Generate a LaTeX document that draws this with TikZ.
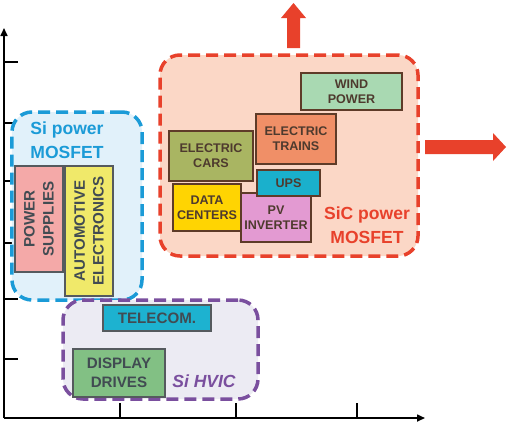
\documentclass[tikz,border=0pt]{standalone}
\usepackage{fontspec}
\setmainfont{Liberation Sans}
\usetikzlibrary{arrows.meta}
\definecolor{siblue}{HTML}{1B9BD7}
\definecolor{sibluefill}{HTML}{E1F1FA}
\definecolor{sicred}{HTML}{E8412B}
\definecolor{sicredfill}{HTML}{FBD7C6}
\definecolor{hvicpurple}{HTML}{7A4F9E}
\definecolor{hvicfill}{HTML}{ECEBF3}
\definecolor{brownline}{HTML}{5E3B28}
\definecolor{grayline}{HTML}{555A5E}
\definecolor{browntext}{HTML}{4E3A2E}
\definecolor{graytext}{HTML}{414B52}
\definecolor{suppliesfill}{HTML}{F4A9A8}
\definecolor{autofill}{HTML}{F0E96A}
\definecolor{telecomfill}{HTML}{1DB2D0}
\definecolor{displayfill}{HTML}{82C084}
\definecolor{windfill}{HTML}{A9D9B2}
\definecolor{trainsfill}{HTML}{F08F67}
\definecolor{carsfill}{HTML}{A9B562}
\definecolor{pvfill}{HTML}{E39AD2}
\definecolor{datafill}{HTML}{FFD402}
\definecolor{upsfill}{HTML}{1AB0CC}
\begin{document}
\begin{tikzpicture}[x=1bp,y=-1bp,
    region/.style={draw,dash pattern=on 12bp off 6bp,line width=3.5bp,rounded corners=20bp,inner sep=0},
    appbox/.style={draw=brownline,line width=2bp,inner sep=0,align=center,text=browntext,
        font=\fontsize{12.6}{15}\selectfont\bfseries},
    sibox/.style={draw=grayline,line width=1.6bp,inner sep=0,align=center,text=graytext,
        font=\fontsize{15.2}{19}\selectfont\bfseries}]
    \useasboundingbox (0,0) rectangle (507,423);
    % axes
    \coordinate (o) at (4,418);
    \coordinate (ytop) at (4,28);
    \coordinate (xend) at (425,418);
    \draw[line width=1.6bp,-{Triangle[length=8bp,width=7bp]}] (o) -- (ytop);
    \draw[line width=1.6bp,-{Triangle[length=8bp,width=7bp]}] (o) -- (xend);
    \foreach \ty in {62,123,181,243,299,359}
        \draw[line width=1.6bp] (4,\ty) -- (18,\ty);
    \foreach \tx in {120,236,357}
        \draw[line width=1.6bp] (\tx,418) -- (\tx,403);
    % regions
    \node[region,draw=siblue,fill=sibluefill,minimum width=130bp,minimum height=188bp] (siregion) at (77,206) {};
    \node[region,draw=hvicpurple,fill=hvicfill,minimum width=195bp,minimum height=99bp] (hvicregion) at (160.5,349.5) {};
    \node[region,draw=sicred,fill=sicredfill,minimum width=258bp,minimum height=201bp] (sicregion) at (289,155.5) {};
    \node[text=siblue,align=center,font=\fontsize{17.6}{24}\selectfont\bfseries] (silabel) at (67,140) {Si power\\MOSFET};
    \node[text=sicred,align=center,font=\fontsize{17.6}{24}\selectfont\bfseries] (siclabel) at (367,225) {SiC power\\MOSFET};
    \node[text=hvicpurple,font=\fontsize{17.6}{20}\selectfont\bfseries\itshape] (hviclabel) at (204,381) {Si HVIC};
    % Si power MOSFET
    \node[sibox,fill=suppliesfill,rotate=90,minimum width=106bp,minimum height=48bp] (supplies) at (39,219) {POWER\\SUPPLIES};
    \node[sibox,fill=autofill,rotate=90,minimum width=130bp,minimum height=48bp] (automotive) at (89,231) {AUTOMOTIVE\\ELECTRONICS};
    % Si HVIC
    \node[sibox,fill=telecomfill,minimum width=108bp,minimum height=26bp] (telecom) at (157,318) {TELECOM.};
    \node[sibox,fill=displayfill,minimum width=92bp,minimum height=48bp] (display) at (119,373) {DISPLAY\\DRIVES};
    % SiC power MOSFET
    \node[appbox,fill=windfill,minimum width=101bp,minimum height=37bp] (wind) at (351.5,91.5) {WIND\\POWER};
    \node[appbox,fill=trainsfill,minimum width=80bp,minimum height=50bp] (trains) at (296,139) {ELECTRIC\\TRAINS};
    \node[appbox,fill=carsfill,minimum width=84bp,minimum height=50bp] (cars) at (211,156) {ELECTRIC\\CARS};
    \node[appbox,fill=pvfill,minimum width=70bp,minimum height=49bp] (pv) at (276,217.5) {PV\\INVERTER};
    \node[appbox,fill=datafill,minimum width=68bp,minimum height=47bp] (datacenters) at (207,207.5) {DATA\\CENTERS};
    \node[appbox,fill=upsfill,minimum width=63bp,minimum height=26bp] (ups) at (288.5,183) {UPS};
    % growth arrows
    \fill[sicred] (287,48) -- (287,18) -- (281,18) -- (293.5,3) -- (306,18) -- (300,18) -- (300,48) -- cycle;
    \fill[sicred] (425,140) -- (493,140) -- (493,133) -- (506,147) -- (493,161) -- (493,154) -- (425,154) -- cycle;
\end{tikzpicture}
\end{document}
